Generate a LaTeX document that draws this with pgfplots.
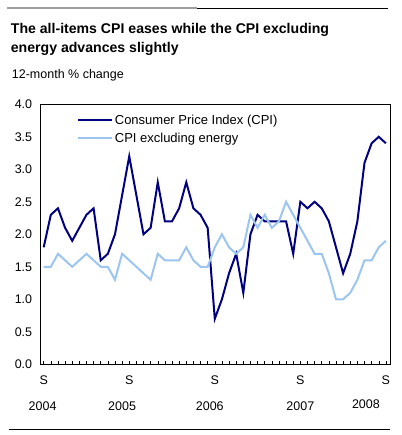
\documentclass[border=0pt]{standalone}
\usepackage{fontspec}
\setmainfont{Liberation Sans}
\usepackage{pgfplots}
\usepackage{pgfplotstable}
\pgfplotsset{compat=1.18}
\definecolor{cpinavy}{HTML}{000080}
\definecolor{cpilight}{HTML}{9CC5F0}

\pgfplotstableread{
i cpi ex
0 1.8 1.5
1 2.3 1.5
2 2.4 1.7
3 2.1 1.6
4 1.9 1.5
5 2.1 1.6
6 2.3 1.7
7 2.4 1.6
8 1.6 1.5
9 1.7 1.5
10 2.0 1.3
11 2.6 1.7
12 3.2 1.6
13 2.6 1.5
14 2.0 1.4
15 2.1 1.3
16 2.8 1.7
17 2.2 1.6
18 2.2 1.6
19 2.4 1.6
20 2.8 1.8
21 2.4 1.6
22 2.3 1.5
23 2.1 1.5
24 0.7 1.8
25 1.0 2.0
26 1.4 1.8
27 1.7 1.7
28 1.1 1.8
29 2.0 2.3
30 2.3 2.1
31 2.2 2.3
32 2.2 2.1
33 2.2 2.2
34 2.2 2.5
35 1.7 2.3
36 2.5 2.1
37 2.4 1.9
38 2.5 1.7
39 2.4 1.7
40 2.2 1.4
41 1.8 1.0
42 1.4 1.0
43 1.7 1.1
44 2.2 1.3
45 3.1 1.6
46 3.4 1.6
47 3.5 1.8
48 3.4 1.9
}\cpidata

\begin{document}
\begin{tikzpicture}[x=1pt,y=1pt]
\useasboundingbox (0,0) rectangle (401,435);
\fill[white] (0,0) rectangle (401,435);
\draw[line width=2pt, gray!75] (7,426.7) -- (197,426.7);
\draw[line width=0.8pt, black] (197,426.7) -- (388,426.7);
\node[anchor=base west, inner sep=0, font=\fontsize{14.1}{17}\selectfont\bfseries] at (10.7,401.7) {The all-items CPI eases while the CPI excluding};
\node[anchor=base west, inner sep=0, font=\fontsize{14.1}{17}\selectfont\bfseries] at (10.7,382.7) {energy advances slightly};
\node[anchor=base west, inner sep=0, font=\fontsize{12.5}{15}\selectfont] at (11.7,356) {12-month \% change};
\draw[line width=0.8pt, black] (9,6) -- (390,6);
\begin{axis}[
  at={(40.7pt,70.7pt)}, anchor=south west,
  scale only axis, width=349.6pt, height=260pt,
  xmin=-0.42, xmax=48.62, ymin=0, ymax=4,
  axis line style={line width=0.7pt},
  xtick={0,12,24,36,48},
  xticklabels={S,S,S,S,S},
  minor x tick num=11,
  xtick pos=left,
  tick align=inside,
  major tick length=3.5pt, minor tick length=3.5pt,
  tick style={black, line width=0.5pt},
  ytick={0,0.5,...,4},
  ytick style={draw=none},
  yticklabel style={/pgf/number format/fixed, /pgf/number format/fixed zerofill, /pgf/number format/precision=1, xshift=-5pt},
  /pgf/number format/assume math mode=true,
  tick label style={font=\fontsize{12.5}{15}\selectfont},
  xticklabel style={yshift=-8pt},
  clip=false,
  legend style={draw=none, fill=none, at={(rel axis cs:0.1,0.972)}, anchor=north west, font=\fontsize{13}{15}\selectfont, row sep=3pt, inner sep=1pt},
  legend cell align=left,
  legend image code/.code={\draw[#1] (0pt,0pt) -- (34pt,0pt);},
]
\addplot[cpinavy, line width=2pt] table[x=i, y=cpi] {\cpidata};
\addlegendentry{Consumer Price Index (CPI)}
\addplot[cpilight, line width=2pt] table[x=i, y=ex] {\cpidata};
\addlegendentry{CPI excluding energy}
\node[anchor=base, font=\fontsize{12.5}{15}\selectfont] at (axis cs:-0.15,0) [yshift=-46pt] {2004};
\node[anchor=base, font=\fontsize{12.5}{15}\selectfont] at (axis cs:11,0) [yshift=-46pt] {2005};
\node[anchor=base, font=\fontsize{12.5}{15}\selectfont] at (axis cs:23.3,0) [yshift=-46pt] {2006};
\node[anchor=base, font=\fontsize{12.5}{15}\selectfont] at (axis cs:36,0) [yshift=-46pt] {2007};
\node[anchor=base, font=\fontsize{12.5}{15}\selectfont] at (axis cs:45.2,0) [yshift=-44pt] {2008};
\end{axis}
\end{tikzpicture}
\end{document}
